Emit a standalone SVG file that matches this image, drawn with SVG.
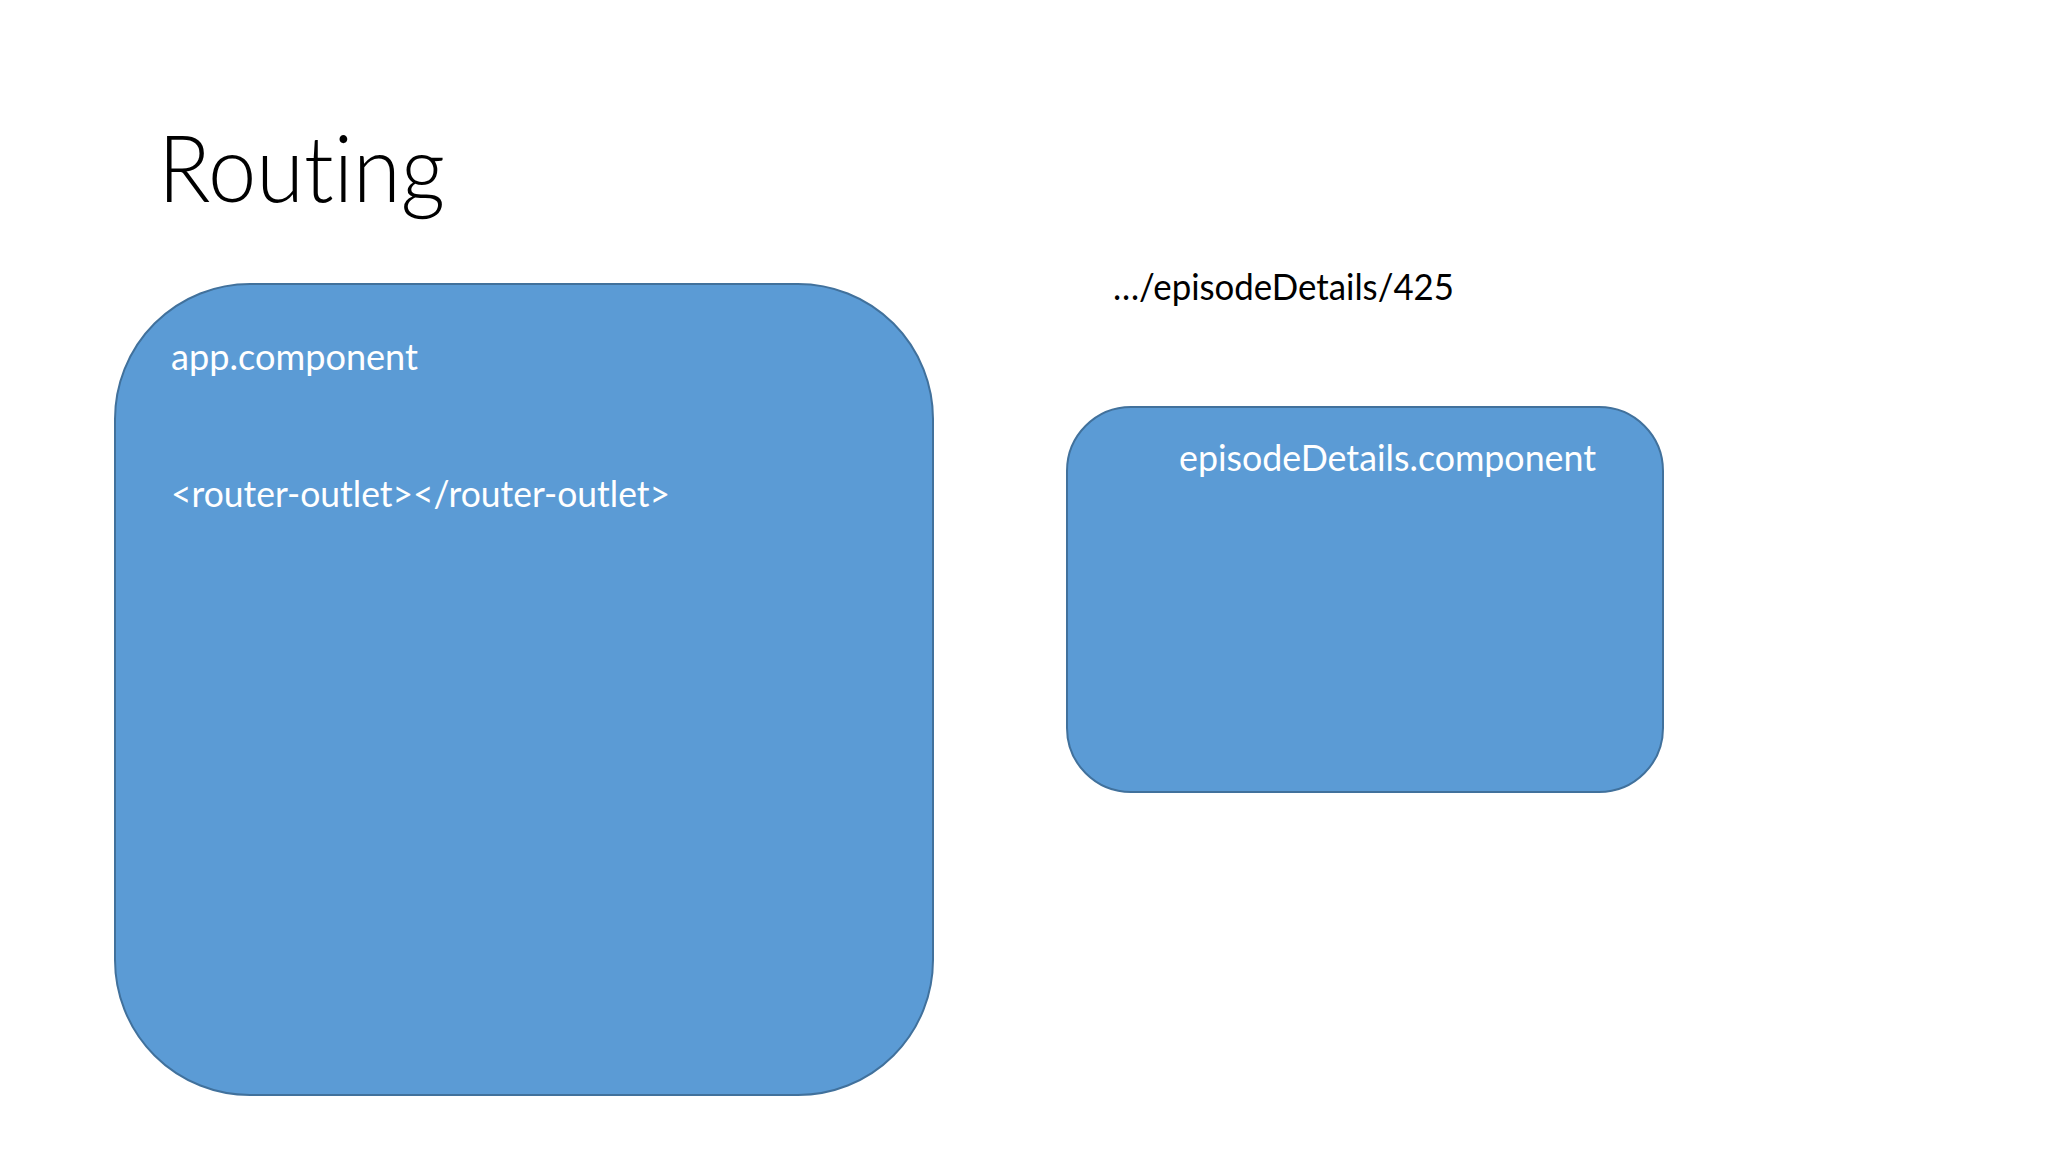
<svg xmlns="http://www.w3.org/2000/svg" width="2048" height="1152" viewBox="0 0 2048 1152">
  <style>
    text { font-variant-ligatures: none; font-feature-settings: "liga" 0, "clig" 0; }
    .box { fill: #5B9BD5; stroke: #41719C; stroke-width: 2; }
    .title { font-family: Lato, "Open Sans", "Liberation Sans", sans-serif; font-weight: 300; font-size: 92px; fill: #000000; }
    .lbl { font-family: Lato, "Open Sans", "Liberation Sans", sans-serif; font-size: 37px; fill: #FFFFFF; }
    .url { font-family: Lato, "Open Sans", "Liberation Sans", sans-serif; font-size: 37px; fill: #000000; }
  </style>
  <rect x="0" y="0" width="2048" height="1152" fill="#FFFFFF"/>
  <g id="title">
    <text class="title" x="158" y="202" textLength="287" lengthAdjust="spacingAndGlyphs">Routing</text>
  </g>
  <g id="app-component">
    <rect class="box" x="115" y="284" width="818" height="811" rx="135" ry="135"/>
    <text class="lbl" x="171" y="370" textLength="247" lengthAdjust="spacingAndGlyphs">app.component</text>
    <text class="lbl" x="171" y="507" textLength="499" lengthAdjust="spacingAndGlyphs">&lt;router-outlet&gt;&lt;/router-outlet&gt;</text>
  </g>
  <g id="url-label">
    <text class="url" x="1113" y="300" textLength="341" lengthAdjust="spacingAndGlyphs">…/episodeDetails/425</text>
  </g>
  <g id="episodeDetails-component">
    <rect class="box" x="1067" y="407" width="596" height="385" rx="64" ry="64"/>
    <text class="lbl" x="1179" y="471" textLength="417" lengthAdjust="spacingAndGlyphs">episodeDetails.component</text>
  </g>
  <g id="connectors"></g>
</svg>
